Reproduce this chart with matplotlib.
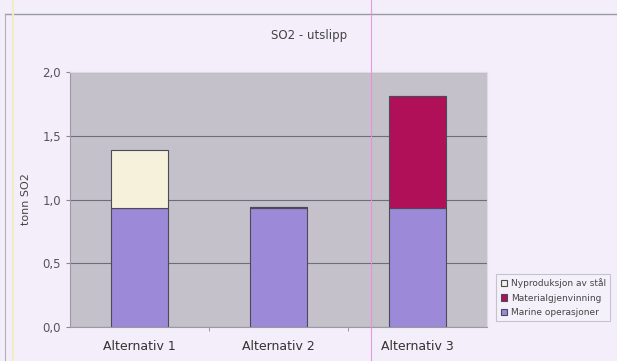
import numpy as np
import matplotlib.pyplot as plt

# SO2 emissions per alternative (tonn)
alternativer = ["Alternativ 1", "Alternativ 2", "Alternativ 3"]
marine = [0.93, 0.93, 0.93]
materialgjenvinning = [0.0, 0.01, 0.88]
nyproduksjon = [0.46, 0.0, 0.0]
yticks = [0.0, 0.5, 1.0, 1.5, 2.0]
ytick_labels = ["0,0", "0,5", "1,0", "1,5", "2,0"]

W, H = 617, 361
fig = plt.figure(figsize=(W / 100, H / 100), dpi=100)
fig.patch.set_facecolor("#f3eefa")

# page frame lines from the scan
fig.add_artist(plt.Line2D([5 / W, 1], [1 - 14 / H, 1 - 14 / H], color="#9a9aa4", lw=1.0))
fig.add_artist(plt.Line2D([5 / W, 5 / W], [0, 1 - 14 / H], color="#b0b0b8", lw=0.8))
fig.add_artist(plt.Line2D([13 / W, 13 / W], [0, 1], color="#f3ecc0", lw=1.5))

ax = fig.add_axes([70 / W, 1 - 327 / H, (487 - 70) / W, (327 - 72) / H])
ax.set_facecolor("#c5c1cb")

x = np.arange(len(alternativer))
bw = 0.41
edge = dict(edgecolor="#4a4a58", linewidth=0.8)
b1 = ax.bar(x, marine, bw, color="#9c89d8", label="Marine operasjoner", **edge)
b2 = ax.bar(x, materialgjenvinning, bw, bottom=marine, color="#b01058",
            label="Materialgjenvinning", **edge)
bottom2 = np.array(marine) + np.array(materialgjenvinning)
b3 = ax.bar(x, nyproduksjon, bw, bottom=bottom2, color="#f6f1da",
            label="Nyproduksjon av stål", **edge)

ax.set_xlim(-0.5, 2.5)
ax.set_ylim(0, 2.0)
ax.set_yticks(yticks)
ax.set_yticklabels(ytick_labels)
ax.yaxis.grid(True, color="#6e6e78", lw=0.8)
ax.set_axisbelow(True)
ax.set_xticks(x)
ax.set_xticklabels(alternativer)
ax.set_xticks([0.5, 1.5], minor=True)
ax.tick_params(axis="x", which="major", length=0, pad=9, labelsize=9, labelcolor="#333333")
ax.tick_params(axis="x", which="minor", length=3, color="#888888")
ax.tick_params(axis="y", length=3, color="#888888", labelsize=8.5, labelcolor="#555555")
for s in ["top", "right"]:
    ax.spines[s].set_color("#dcdce4")
for s in ["left", "bottom"]:
    ax.spines[s].set_color("#9a9aa2")

ax.set_ylabel("tonn SO2", fontsize=8, color="#444444", labelpad=8)
fig.text(309 / W, 1 - 35 / H, "SO2 - utslipp", fontsize=8.5, color="#444444",
         ha="center", va="center")

leg = fig.legend(handles=[b3, b2, b1], loc="lower right",
                 bbox_to_anchor=(615 / W, 1 - 326 / H), fontsize=6.5,
                 frameon=True, fancybox=False, handlelength=0.7, handleheight=0.7,
                 handletextpad=0.4, borderpad=0.5, labelspacing=0.6)
leg.get_frame().set_edgecolor("#b8b8c0")
leg.get_frame().set_facecolor("#f6f2fb")
leg.get_frame().set_linewidth(0.8)
for t in leg.get_texts():
    t.set_color("#444444")

# fold line running over the whole page
fig.add_artist(plt.Line2D([371 / W, 371 / W], [0, 1], color="#e890d8", lw=0.8, alpha=0.9,
                          zorder=10))

fig.savefig("out.png", dpi=100, facecolor=fig.get_facecolor())
